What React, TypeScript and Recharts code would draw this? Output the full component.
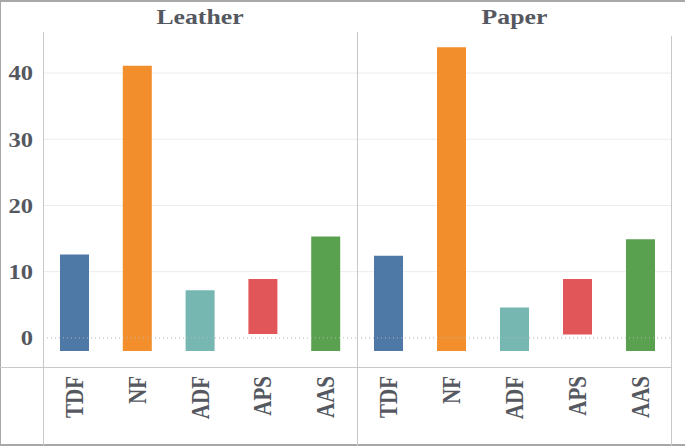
import { BarChart, Bar, Cell, XAxis, YAxis, CartesianGrid, ReferenceLine } from "recharts";

const serif = "'Liberation Serif', 'DejaVu Serif', 'Times New Roman', serif";
const textColor = "#555860";
// the reference looks horizontally stretched a little
const stretch = 1.17;

// categories and colours (Tableau 10)
const categories = ["TDF", "NF", "ADF", "APS", "AAS"];
const barColors = ["#4e79a7", "#f28e2b", "#76b7b2", "#e15759", "#59a14f"];

// floating bars: [low, high]
const leatherLow = [-2, -2, -2, 0.6, -2];
const leatherHigh = [12.6, 41.1, 7.2, 8.9, 15.3];
const paperLow = [-2, -2, -2, 0.5, -2];
const paperHigh = [12.4, 43.9, 4.6, 8.9, 14.9];

const yTicks = [0, 10, 20, 30, 40];
const yDomain = [-4.4, 46.2];

const build = (low: number[], high: number[]) =>
  categories.map((name, i) => ({ name, range: [low[i], high[i]] }));

const leatherData = build(leatherLow, leatherHigh);
const paperData = build(paperLow, paperHigh);

function XTick({ x, y, payload }: any) {
  const ty = y + 9;
  return (
    <g transform={`translate(${x}, ${ty}) scale(${stretch}, 1) rotate(-90)`}>
      <text
        x={0}
        y={0}
        textAnchor="end"
        dy="0.35em"
        fill={textColor}
        style={{ fontFamily: serif, fontSize: 21, fontWeight: 700 }}
      >
        {payload.value}
      </text>
    </g>
  );
}

function YTick({ y, payload }: any) {
  return (
    <g transform={`translate(33, ${y}) scale(${stretch}, 1)`}>
      <text
        x={0}
        y={0}
        textAnchor="end"
        dy="0.35em"
        fill={textColor}
        style={{ fontFamily: serif, fontSize: 21, fontWeight: 700 }}
      >
        {payload.value}
      </text>
    </g>
  );
}

function Panel({ data, width, showY }: { data: any[]; width: number; showY: boolean }) {
  return (
    <BarChart width={width} height={446} data={data} margin={{ top: 32, right: 0, left: 0, bottom: 0 }}>
      <CartesianGrid vertical={false} horizontalValues={[10, 20, 30, 40]} stroke="#ececec" />
      <XAxis
        dataKey="name"
        height={79}
        axisLine={false}
        tickLine={false}
        tickSize={0}
        tickMargin={0}
        interval={0}
        tick={<XTick />}
      />
      <YAxis
        type="number"
        domain={yDomain}
        ticks={yTicks}
        width={43}
        hide={!showY}
        axisLine={false}
        tickLine={false}
        tick={<YTick />}
        allowDataOverflow
      />
      <ReferenceLine y={0} stroke="#b8b8b8" strokeDasharray="1 3" />
      <Bar dataKey="range" barSize={29} isAnimationActive={false}>
        {data.map((_, i) => (
          <Cell key={i} fill={barColors[i]} />
        ))}
      </Bar>
    </BarChart>
  );
}

const line = (left: number, top: number, w: number, h: number, color = "#c8c8c8") => (
  <div style={{ position: "absolute", left, top, width: w, height: h, background: color }} />
);

const titleStyle = (left: number, width: number): React.CSSProperties => ({
  position: "absolute",
  left,
  width,
  top: 4,
  textAlign: "center",
  fontFamily: serif,
  fontWeight: 700,
  fontSize: 22,
  color: textColor,
  transform: `scaleX(${stretch})`,
});

export default function App() {
  return (
    <div
      style={{
        position: "absolute",
        left: 0,
        top: 0,
        width: 685,
        height: 446,
        background: "#fff",
        overflow: "hidden",
      }}
    >
      <div style={{ position: "absolute", left: 0, top: 0 }}>
        <Panel data={leatherData} width={357} showY />
      </div>
      <div style={{ position: "absolute", left: 357, top: 0 }}>
        <Panel data={paperData} width={315} showY={false} />
      </div>
      <div style={titleStyle(43, 314)}>Leather</div>
      <div style={titleStyle(357, 315)}>Paper</div>
      {/* frame lines */}
      {line(0, 0, 685, 2, "#a8a8a8")}
      {line(0, 0, 1, 446, "#a8a8a8")}
      {line(0, 444, 685, 2, "#a8a8a8")}
      {line(43, 32, 1, 414)}
      {line(357, 32, 1, 414)}
      {line(671, 36, 1, 410)}
      {line(0, 367, 672, 1)}
    </div>
  );
}
